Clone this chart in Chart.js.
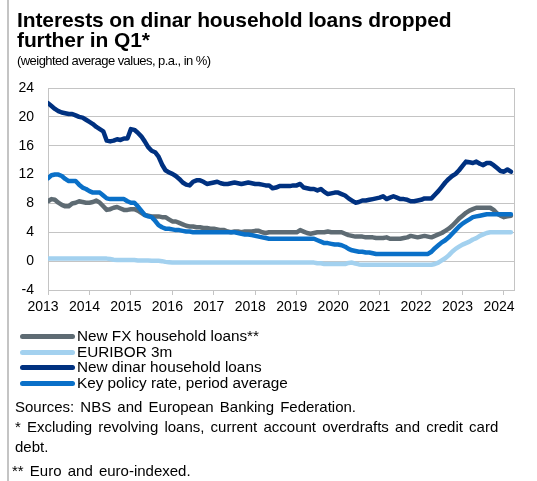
<!DOCTYPE html>
<html>
<head>
<meta charset="utf-8">
<script src="https://cdn.jsdelivr.net/npm/chart.js@4"></script>
<style>
    html, body { margin: 0; padding: 0; background: #fff; }
    #wrap { position: relative; width: 537px; height: 481px; overflow: hidden; font-family: "Liberation Sans", Arial, sans-serif; color: #000; }
    #wrap canvas { position: absolute; left: 0; top: 0; }
    .edge { position: absolute; left: 7px; top: 0; width: 2px; height: 481px; background: #c4c4c4; }
    .title { position: absolute; left: 17px; top: 10px; font-size: 21px; line-height: 20px; font-weight: bold; letter-spacing: -0.1px; }
    .sub { position: absolute; left: 17px; top: 53px; font-size: 13px; line-height: 16px; letter-spacing: -0.55px; }
    .legend { position: absolute; left: 20px; top: 328px; font-size: 15.3px; line-height: 15.6px; }
    .legend div { position: relative; padding-left: 57px; white-space: nowrap; }
    .legend span { position: absolute; left: 0; top: 6px; width: 55px; height: 5px; border-radius: 3px; }
    .notes { position: absolute; left: 15px; top: 397px; font-size: 15px; line-height: 20px; word-spacing: 2px; white-space: nowrap; }
</style>
</head>
<body>
<div id="wrap">
    <canvas id="chart" width="537" height="481"></canvas>
    <div class="edge"></div>
    <div class="title">Interests on dinar household loans dropped<br>further in Q1*</div>
    <div class="sub">(weighted average values, p.a., in %)</div>
    <div class="legend" id="legend"></div>
    <div class="notes">
        Sources: NBS and European Banking Federation.<br>
        * Excluding revolving loans, current account overdrafts and credit card<br>
        debt.<br>
        <span style="margin-left:-3px; position:relative; top:4px">** Euro and euro-indexed.</span>
    </div>
</div>
<script>
// monthly values, Jan 2013 - Mar 2024
var yearLabels = ['2013', '2014', '2015', '2016', '2017', '2018', '2019', '2020', '2021', '2022', '2023', '2024'];

var fxLoans = [
    8.3, 8.6, 8.5, 8.1, 7.8, 7.6, 7.6, 8.0, 8.1, 8.3, 8.2, 8.1,
    8.1, 8.2, 8.4, 8.1, 7.6, 7.1, 7.2, 7.4, 7.5, 7.3, 7.1, 7.1,
    7.2, 7.2, 7.0, 6.7, 6.4, 6.3, 6.2, 6.2, 6.2, 6.1, 6.1, 5.8,
    5.5, 5.5, 5.3, 5.1, 4.9, 4.8, 4.8, 4.7, 4.7, 4.6, 4.6, 4.5,
    4.5, 4.4, 4.3, 4.3, 4.1, 4.0, 4.1, 4.1, 4.0, 4.1, 4.1, 4.1,
    4.2, 4.2, 4.0, 3.9, 4.0, 4.0, 4.0, 4.0, 4.0, 4.0, 4.0, 4.0,
    4.0, 4.3, 4.1, 3.9, 3.8, 3.9, 4.0, 4.0, 4.0, 4.1, 4.0, 4.0,
    4.0, 4.0, 3.8, 3.6, 3.5, 3.4, 3.4, 3.4, 3.3, 3.3, 3.3, 3.2,
    3.2, 3.2, 3.3, 3.1, 3.1, 3.1, 3.1, 3.2, 3.3, 3.5, 3.4, 3.3,
    3.4, 3.5, 3.4, 3.3, 3.5, 3.7, 3.9, 4.2, 4.5, 4.9, 5.4, 5.9,
    6.3, 6.7, 7.0, 7.2, 7.4, 7.4, 7.4, 7.4, 7.4, 7.1, 6.6, 6.3,
    6.1, 6.2, 6.3
];

var euribor = [
    0.35, 0.35, 0.35, 0.35, 0.35, 0.35, 0.35, 0.35, 0.35, 0.35, 0.35, 0.35,
    0.35, 0.35, 0.35, 0.35, 0.35, 0.35, 0.3, 0.2, 0.15, 0.15, 0.15, 0.15,
    0.15, 0.15, 0.1, 0.1, 0.1, 0.1, 0.05, 0.05, 0.05, 0.0, -0.1, -0.15,
    -0.2, -0.2, -0.2, -0.2, -0.2, -0.2, -0.2, -0.2, -0.2, -0.2, -0.2, -0.2,
    -0.2, -0.2, -0.2, -0.2, -0.2, -0.2, -0.2, -0.2, -0.2, -0.2, -0.2, -0.2,
    -0.2, -0.2, -0.2, -0.2, -0.2, -0.2, -0.2, -0.2, -0.2, -0.2, -0.2, -0.2,
    -0.2, -0.2, -0.2, -0.2, -0.2, -0.2, -0.3, -0.3, -0.4, -0.4, -0.4, -0.4,
    -0.4, -0.4, -0.4, -0.25, -0.2, -0.35, -0.45, -0.5, -0.5, -0.5, -0.5, -0.5,
    -0.5, -0.5, -0.5, -0.5, -0.5, -0.5, -0.5, -0.5, -0.5, -0.5, -0.5, -0.5,
    -0.5, -0.5, -0.5, -0.5, -0.4, -0.2, 0.1, 0.4, 0.8, 1.3, 1.7, 2.0,
    2.3, 2.5, 2.7, 3.0, 3.2, 3.5, 3.7, 3.9, 4.0, 4.0, 4.0, 4.0,
    4.0, 4.0, 4.0
];

var dinarLoans = [
    21.9, 21.5, 21.1, 20.8, 20.6, 20.5, 20.4, 20.4, 20.2, 20.0, 19.9, 19.6,
    19.3, 19.0, 18.6, 18.3, 18.0, 16.7, 16.6, 16.7, 16.9, 16.8, 17.0, 17.0,
    18.3, 18.2, 17.8, 17.3, 16.6, 15.8, 15.3, 15.1, 14.5, 13.4, 12.6, 12.3,
    12.1, 11.8, 11.4, 10.9, 10.6, 10.5, 11.0, 11.2, 11.2, 11.0, 10.7, 10.8,
    10.9, 11.0, 10.8, 10.7, 10.7, 10.8, 10.9, 10.8, 10.7, 10.8, 10.9, 10.8,
    10.7, 10.7, 10.6, 10.5, 10.5, 10.1, 10.2, 10.4, 10.4, 10.4, 10.4, 10.5,
    10.5, 10.7, 10.2, 10.1, 10.0, 10.0, 9.8, 10.0, 9.6, 9.3, 9.4, 9.5,
    9.5, 9.3, 9.1, 8.7, 8.4, 8.1, 8.2, 8.4, 8.4, 8.5, 8.6, 8.7,
    8.8, 9.0, 8.6, 8.8, 9.0, 8.8, 8.6, 8.6, 8.5, 8.3, 8.3, 8.4,
    8.5, 8.7, 8.7, 8.7, 9.2, 9.7, 10.3, 10.9, 11.4, 11.8, 12.1, 12.6,
    13.2, 13.8, 13.7, 13.6, 13.8, 13.5, 13.3, 13.6, 13.6, 13.3, 12.9, 12.5,
    12.4, 12.7, 12.4
];

var policyRate = [
    11.5, 11.9, 12.0, 12.0, 11.8, 11.4, 11.1, 11.1, 11.1, 10.6, 10.2, 10.0,
    9.7, 9.5, 9.5, 9.5, 9.1, 8.7, 8.6, 8.6, 8.6, 8.6, 8.6, 8.3,
    8.1, 8.1, 7.6, 7.0, 6.4, 6.2, 6.1, 5.6, 5.0, 4.7, 4.5, 4.5,
    4.4, 4.3, 4.3, 4.2, 4.1, 4.1, 4.0, 4.0, 4.0, 4.0, 4.0, 4.0,
    4.0, 4.0, 4.0, 4.0, 4.0, 4.0, 4.0, 3.9, 3.8, 3.7, 3.7, 3.6,
    3.5, 3.4, 3.3, 3.2, 3.1, 3.1, 3.1, 3.1, 3.1, 3.1, 3.1, 3.1,
    3.1, 3.1, 3.1, 3.1, 3.1, 3.1, 2.9, 2.7, 2.5, 2.5, 2.4, 2.3,
    2.3, 2.2, 2.0, 1.7, 1.5, 1.4, 1.3, 1.3, 1.2, 1.2, 1.1, 1.0,
    1.0, 1.0, 1.0, 1.0, 1.0, 1.0, 1.0, 1.0, 1.0, 1.0, 1.0, 1.0,
    1.0, 1.0, 1.0, 1.3, 1.8, 2.2, 2.6, 2.9, 3.3, 3.8, 4.3, 4.8,
    5.2, 5.5, 5.8, 6.1, 6.2, 6.3, 6.4, 6.5, 6.5, 6.5, 6.5, 6.5,
    6.5, 6.5, 6.5
];

var seriesNames = ['New FX household loans**', 'EURIBOR 3m', 'New dinar household loans', 'Key policy rate, period average'];
var seriesColors = ['#5e6b73', '#a3d1ef', '#003180', '#0a70c8'];
var yTicks = [-4, 0, 4, 8, 12, 16, 20, 24];

function toPoints(values) {
    return values.map(function (v, i) { return { x: i, y: v }; });
}

var gridColor = '#c4c4c4';
var font = { family: '"Liberation Sans", Arial, sans-serif', size: 14 };

// frame around the plot area
var frame = {
    id: 'frame',
    beforeDatasetsDraw: function (chart) {
        var a = chart.chartArea, ctx = chart.ctx;
        ctx.save();
        ctx.strokeStyle = gridColor;
        ctx.lineWidth = 1;
        ctx.strokeRect(Math.round(a.left) + 0.5, Math.round(a.top) + 0.5, Math.round(a.right - a.left), Math.round(a.bottom - a.top));
        ctx.restore();
    }
};

var allSeries = [fxLoans, euribor, dinarLoans, policyRate];

var ctx = document.getElementById('chart').getContext('2d');
var chart = new Chart(ctx, {
    type: 'line',
    data: {
        datasets: allSeries.map(function (vals, i) {
            return {
                label: seriesNames[i],
                data: toPoints(vals),
                borderColor: seriesColors[i],
                backgroundColor: seriesColors[i],
                borderWidth: 4.5,
                pointRadius: 0,
                tension: 0,
                borderJoinStyle: 'round',
                borderCapStyle: 'round',
                order: 4 - i // later series on top, like the original
            };
        })
    },
    options: {
        responsive: false,
        animation: false,
        devicePixelRatio: 1,
        layout: { padding: { top: 88, right: 23, bottom: 161, left: 0 } },
        plugins: {
            legend: { display: false },
            tooltip: { enabled: false }
        },
        scales: {
            x: {
                type: 'linear',
                min: 0,
                max: 134.9,
                afterFit: function (scale) { scale.height = 30; },
                grid: { drawOnChartArea: false, color: gridColor, tickLength: 5 },
                border: { color: gridColor },
                ticks: {
                    stepSize: 12,
                    includeBounds: false,
                    autoSkip: false,
                    maxRotation: 0,
                    padding: 4,
                    labelOffset: -5,
                    color: '#000',
                    font: font,
                    callback: function (v) { return yearLabels[v / 12]; }
                }
            },
            y: {
                min: -4,
                max: 24,
                afterFit: function (scale) { scale.width = 48; },
                afterBuildTicks: function (scale) {
                    scale.ticks = yTicks.map(function (v) { return { value: v }; });
                },
                grid: { color: gridColor, drawTicks: false },
                border: { color: gridColor },
                ticks: { padding: 14, color: '#000', font: font }
            }
        }
    },
    plugins: [frame]
});

// legend, one row per series
var legend = document.getElementById('legend');
seriesNames.forEach(function (name, i) {
    var row = document.createElement('div');
    var swatch = document.createElement('span');
    swatch.style.background = seriesColors[i];
    row.appendChild(swatch);
    row.appendChild(document.createTextNode(name));
    legend.appendChild(row);
});
</script>
</body>
</html>
